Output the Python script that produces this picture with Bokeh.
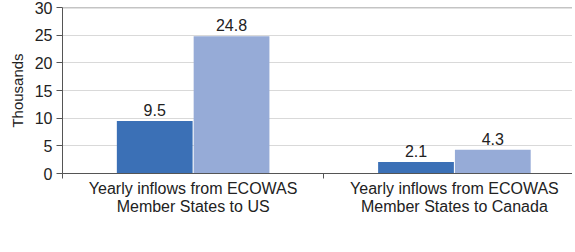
from bokeh.plotting import figure
from bokeh.models import (ColumnDataSource, FixedTicker, Legend, LegendItem,
                          LabelSet, Span, Range1d)
from bokeh.core.properties import value
from bokeh.embed import file_html
from bokeh.resources import INLINE

categories = ["Yearly inflows from ECOWAS\nMember States to US",
              "Yearly inflows from ECOWAS\nMember States to Canada"]
years = ["1994", "2004"]
values_1994 = [9.5, 2.1]
values_2004 = [24.8, 4.3]
y_ticks = [0, 5, 10, 15, 20, 25, 30]

colors = {"1994": "#3b70b6", "2004": "#96abd7"}
FONT = "Liberation Sans"

idx = list(range(len(categories)))
centers = [i + 0.5 for i in idx]
bar_w = 0.29
off = 0.147

p = figure(frame_width=510, frame_height=166, output_backend="svg",
           toolbar_location=None,
           x_range=Range1d(0, 1.952), y_range=Range1d(0, 30),
           min_border_top=7, min_border_right=0, min_border_left=62,
           min_border_bottom=0)
p.outline_line_color = None
p.background_fill_color = "white"
p.border_fill_color = "white"

src1 = ColumnDataSource(dict(x=[c - off for c in centers], top=values_1994,
                             lab=[f"{v:.1f}" for v in values_1994]))
src2 = ColumnDataSource(dict(x=[c + off for c in centers], top=values_2004,
                             lab=[f"{v:.1f}" for v in values_2004]))
r1 = p.vbar(x="x", top="top", width=bar_w, bottom=0, source=src1,
            fill_color=colors["1994"], line_color=None)
r2 = p.vbar(x="x", top="top", width=bar_w, bottom=0, source=src2,
            fill_color=colors["2004"], line_color=None)

for s in (src1, src2):
    p.add_layout(LabelSet(x="x", y="top", text="lab", source=s, y_offset=5,
                          text_align="center", text_baseline="bottom",
                          text_font=value(FONT), text_font_size="16px",
                          text_color="#222222"))

# grid
p.xgrid.visible = False
p.ygrid.ticker = FixedTicker(ticks=y_ticks)
p.ygrid.grid_line_color = "#d9d9d9"
p.ygrid.grid_line_width = 1
p.add_layout(Span(location=30, dimension="width", line_color="#8a8a8a",
                  line_width=1.5))

# y axis
ya = p.yaxis[0]
ya.ticker = FixedTicker(ticks=y_ticks)
ya.axis_label = "Thousands"
ya.axis_label_text_font = FONT
ya.axis_label_text_font_size = "15px"
ya.axis_label_text_font_style = "normal"
ya.axis_label_text_color = "#222222"
ya.axis_label_standoff = 6
ya.major_label_text_font = FONT
ya.major_label_text_font_size = "16px"
ya.major_label_text_color = "#222222"
ya.axis_line_color = "#555555"
ya.major_tick_line_color = "#555555"
ya.major_tick_out = 6
ya.major_tick_in = 0
ya.minor_tick_line_color = None
ya.major_label_standoff = 4

# x axis
xa = p.xaxis[0]
xa.ticker = FixedTicker(ticks=centers, minor_ticks=[0] + [i + 1 for i in idx])
xa.major_label_overrides = {c: categories[i] for i, c in enumerate(centers)}
xa.major_tick_line_color = None
xa.major_tick_out = 6
xa.minor_tick_line_color = "#555555"
xa.minor_tick_out = 5
xa.minor_tick_in = 0
xa.axis_line_color = "#555555"
xa.major_label_text_font = FONT
xa.major_label_text_font_size = "16px"
xa.major_label_text_line_height = 1.1
xa.major_label_text_color = "#222222"
xa.major_label_standoff = 0
xa.axis_label_standoff = 0

legend = Legend(items=[LegendItem(label=years[0], renderers=[r1]),
                       LegendItem(label=years[1], renderers=[r2])],
                orientation="horizontal", location=(191, 0),
                label_text_font=FONT, label_text_font_size="16px",
                label_text_color="#222222", label_height=12,
                glyph_width=12, glyph_height=12, spacing=9,
                label_standoff=4, padding=0, margin=0,
                border_line_color=None, background_fill_alpha=0)
p.add_layout(legend, "below")

open("out.html", "w").write(file_html(p, INLINE))
